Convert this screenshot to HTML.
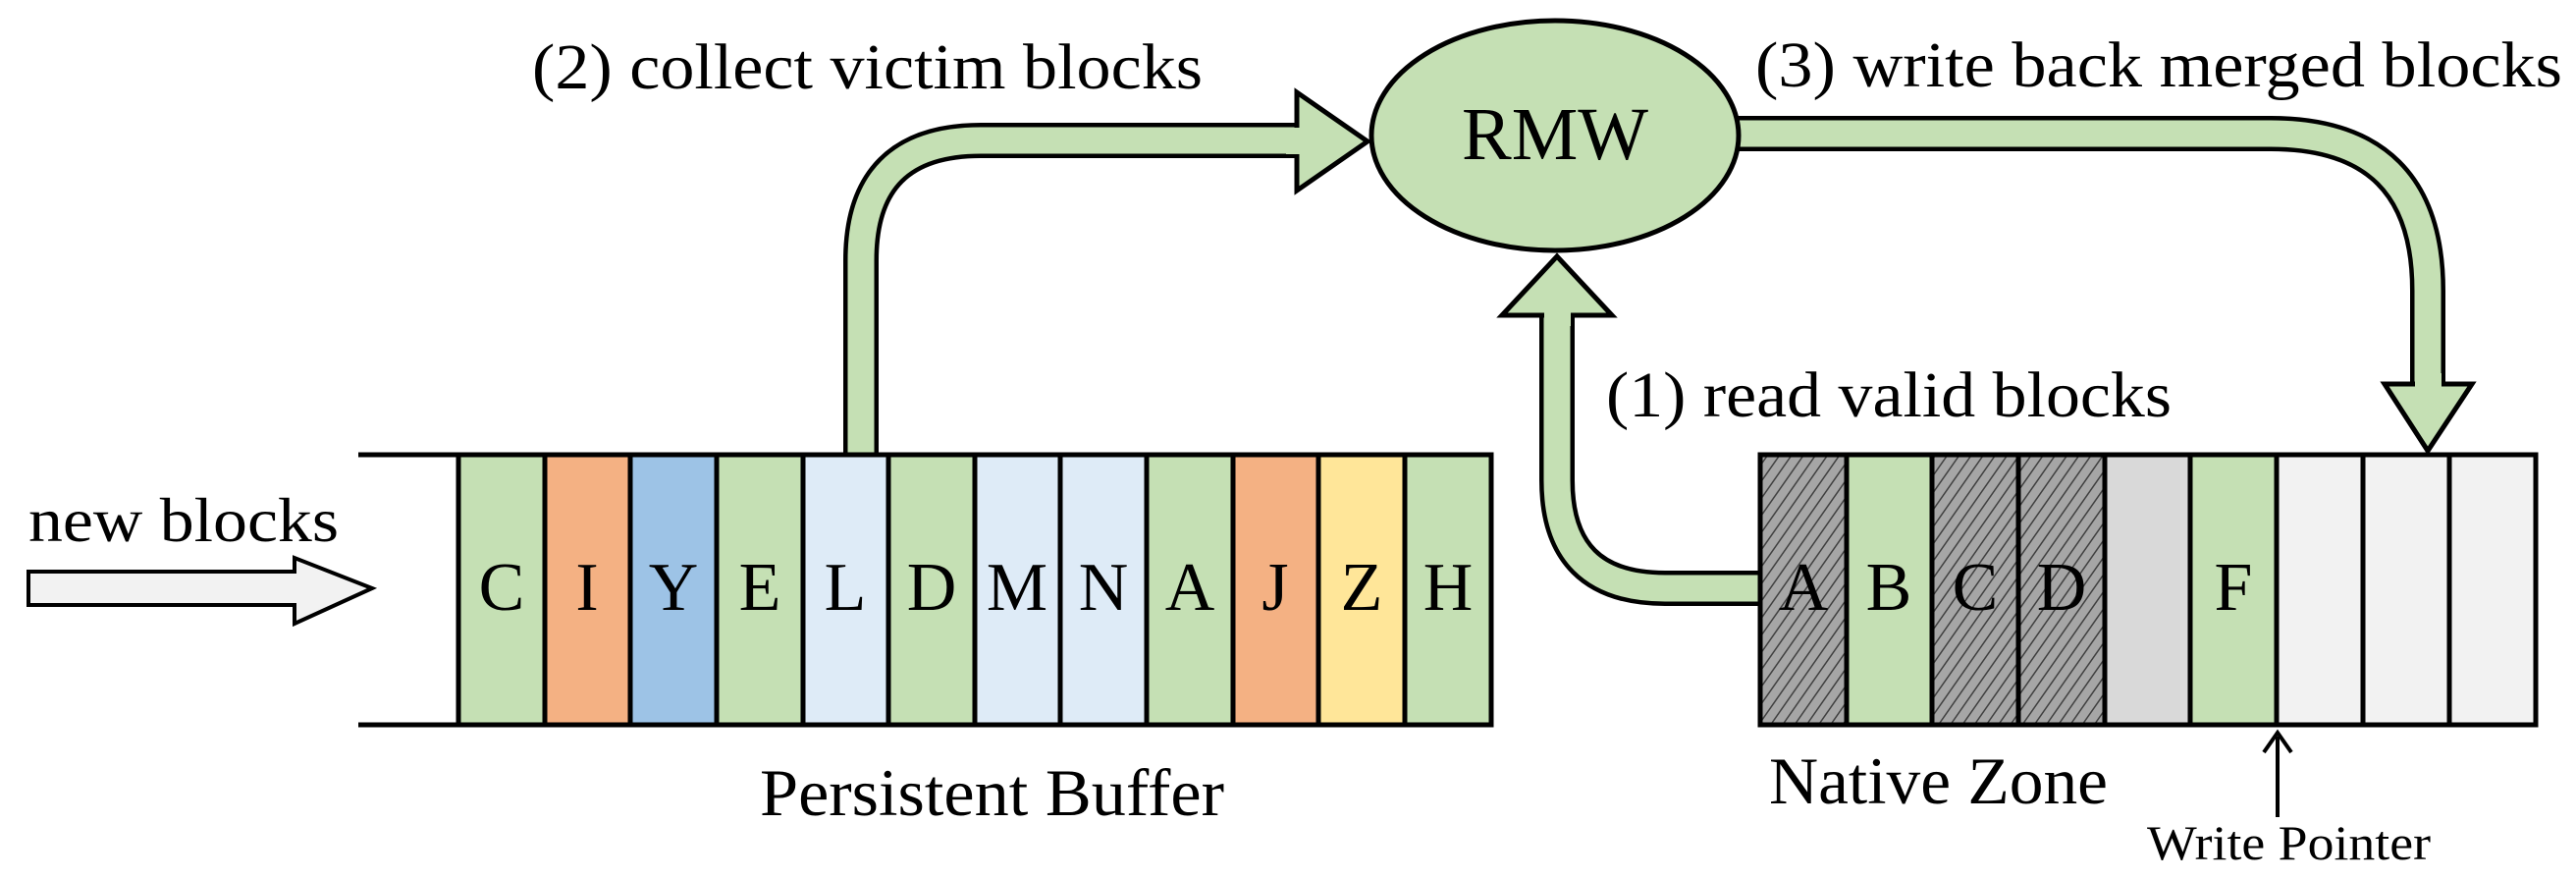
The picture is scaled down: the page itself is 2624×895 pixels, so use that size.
<!DOCTYPE html>
<html><head><meta charset="utf-8"><style>html,body{margin:0;padding:0;background:#fff}svg{display:block}</style></head>
<body>
<svg width="2624" height="895" viewBox="0 0 2624 895" xmlns="http://www.w3.org/2000/svg" font-family="'Liberation Serif', 'Times New Roman', serif">
<defs>
<pattern id="h" width="10" height="10" patternUnits="userSpaceOnUse" patternTransform="rotate(35)">
<rect width="10" height="10" fill="#a6a6a6"/><line x1="0" y1="0" x2="0" y2="10" stroke="#404040" stroke-width="3"/>
</pattern>
</defs>
<!-- arrow 2 -->
<path d="M877 470 V265 Q877 143 999 143 H1325" fill="none" stroke="#000" stroke-width="36"/>
<path d="M877 470 V265 Q877 143 999 143 H1328" fill="none" stroke="#c5e0b4" stroke-width="27"/>
<polygon points="1321,94 1393,144 1321,194" fill="#c5e0b4" stroke="#000" stroke-width="5"/>
<rect x="1310" y="130" width="14" height="27" fill="#c5e0b4"/>
<!-- arrow 3 -->
<path d="M1760 136 H2313 Q2473 136 2473 296 V395" fill="none" stroke="#000" stroke-width="36"/>
<path d="M1760 136 H2313 Q2473 136 2473 296 V398" fill="none" stroke="#c5e0b4" stroke-width="27"/>
<polygon points="2429,391 2518,391 2473,459" fill="#c5e0b4" stroke="#000" stroke-width="5"/>
<rect x="2460" y="380" width="27" height="14" fill="#c5e0b4"/>
<!-- arrow 1 -->
<path d="M1800 599 H1696 Q1586 599 1586 489 V318" fill="none" stroke="#000" stroke-width="36"/>
<path d="M1800 599 H1696 Q1586 599 1586 489 V315" fill="none" stroke="#c5e0b4" stroke-width="27"/>
<polygon points="1530,321 1642,321 1586,261" fill="#c5e0b4" stroke="#000" stroke-width="5"/>
<rect x="1573" y="318" width="27" height="14" fill="#c5e0b4"/>
<!-- RMW -->
<ellipse cx="1584" cy="138" rx="187" ry="117" fill="#c5e0b4" stroke="#000" stroke-width="5"/>
<text x="1584" y="162" font-size="76" text-anchor="middle">RMW</text>
<!-- new blocks arrow -->
<polygon points="29,582 300,582 300,568 379,599 300,635 300,616 29,616" fill="#f2f2f2" stroke="#000" stroke-width="4"/>
<text x="29" y="551" font-size="64" textLength="316" lengthAdjust="spacingAndGlyphs">new blocks</text>
<!-- persistent buffer -->
<g stroke="#000" stroke-width="5">
<rect x="467" y="463" width="88" height="275" fill="#c5e0b4"/>
<rect x="555" y="463" width="87" height="275" fill="#f4b183"/>
<rect x="642" y="463" width="88" height="275" fill="#9dc3e6"/>
<rect x="730" y="463" width="88" height="275" fill="#c5e0b4"/>
<rect x="818" y="463" width="87" height="275" fill="#deebf7"/>
<rect x="905" y="463" width="88" height="275" fill="#c5e0b4"/>
<rect x="993" y="463" width="87" height="275" fill="#deebf7"/>
<rect x="1080" y="463" width="88" height="275" fill="#deebf7"/>
<rect x="1168" y="463" width="88" height="275" fill="#c5e0b4"/>
<rect x="1256" y="463" width="87" height="275" fill="#f4b183"/>
<rect x="1343" y="463" width="88" height="275" fill="#ffe699"/>
<rect x="1431" y="463" width="88" height="275" fill="#c5e0b4"/>
<line x1="365" y1="463" x2="1519" y2="463"/>
<line x1="365" y1="738" x2="1519" y2="738"/>
</g>
<g font-size="70" text-anchor="middle">
<text x="511" y="621">C</text><text x="598" y="621">I</text><text x="686" y="621">Y</text><text x="774" y="621">E</text><text x="861" y="621">L</text><text x="949" y="621">D</text><text x="1036" y="621">M</text><text x="1124" y="621">N</text><text x="1212" y="621">A</text><text x="1299" y="621">J</text><text x="1387" y="621">Z</text><text x="1475" y="621">H</text>
</g>
<!-- native zone -->
<g stroke="#000" stroke-width="5">
<rect x="1793" y="463" width="88" height="275" fill="url(#h)"/>
<rect x="1881" y="463" width="87" height="275" fill="#c5e0b4"/>
<rect x="1968" y="463" width="88" height="275" fill="url(#h)"/>
<rect x="2056" y="463" width="88" height="275" fill="url(#h)"/>
<rect x="2144" y="463" width="87" height="275" fill="#d9d9d9"/>
<rect x="2231" y="463" width="88" height="275" fill="#c5e0b4"/>
<rect x="2319" y="463" width="88" height="275" fill="#f2f2f2"/>
<rect x="2407" y="463" width="88" height="275" fill="#f2f2f2"/>
<rect x="2495" y="463" width="88" height="275" fill="#f2f2f2"/>
</g>
<g font-size="70" text-anchor="middle">
<text x="1837" y="621">A</text><text x="1924" y="621">B</text><text x="2012" y="621">C</text><text x="2100" y="621">D</text><text x="2275" y="621">F</text>
</g>
<!-- labels -->
<text x="542" y="90" font-size="66" textLength="683" lengthAdjust="spacingAndGlyphs">(2) collect victim blocks</text>
<text x="1788" y="88" font-size="66" textLength="822" lengthAdjust="spacingAndGlyphs">(3) write back merged blocks</text>
<text x="1636" y="424" font-size="66" textLength="576" lengthAdjust="spacingAndGlyphs">(1) read valid blocks</text>
<text x="774" y="830" font-size="68" textLength="473" lengthAdjust="spacingAndGlyphs">Persistent Buffer</text>
<text x="1802" y="818" font-size="68" textLength="345" lengthAdjust="spacingAndGlyphs">Native Zone</text>
<text x="2187" y="875" font-size="50" textLength="289" lengthAdjust="spacingAndGlyphs">Write Pointer</text>
<line x1="2320" y1="832" x2="2320" y2="750" stroke="#000" stroke-width="4"/>
<polyline points="2306,766 2320,746 2334,766" fill="none" stroke="#000" stroke-width="4"/>
</svg>
</body></html>
